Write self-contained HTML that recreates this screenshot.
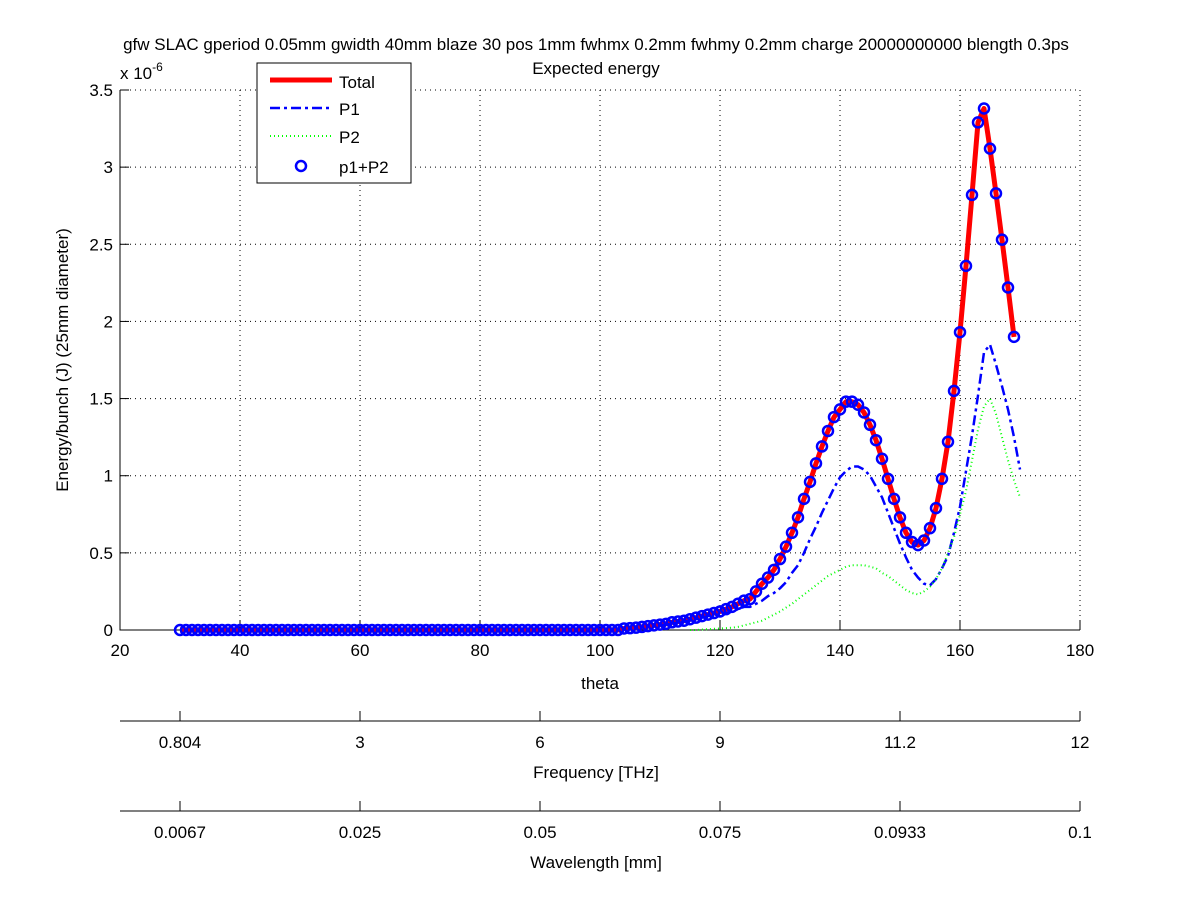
<!DOCTYPE html>
<html><head><meta charset="utf-8"><style>
body{margin:0;background:#fff;}
svg text{font-family:"Liberation Sans",sans-serif;fill:#000;}
</style></head><body>
<svg id="chart" width="1200" height="901" xmlns="http://www.w3.org/2000/svg">
<rect width="1200" height="901" fill="#fff"/>
<text x="596" y="50" font-size="17" text-anchor="middle">gfw SLAC gperiod 0.05mm gwidth 40mm blaze 30 pos 1mm fwhmx 0.2mm fwhmy 0.2mm charge 20000000000 blength 0.3ps</text>
<text x="596" y="74" font-size="17" text-anchor="middle">Expected energy</text>
<g id="grid"></g>
<g id="axes"></g>
<g id="series"></g>
<text x="120" y="79" font-size="17">x 10<tspan dy="-8" font-size="12">-6</tspan></text>
<text transform="translate(68,360) rotate(-90)" font-size="17" text-anchor="middle">Energy/bunch (J) (25mm diameter)</text>
<text x="600" y="689" font-size="17" text-anchor="middle">theta</text>
<text x="596" y="778" font-size="17" text-anchor="middle">Frequency [THz]</text>
<text x="596" y="868" font-size="17" text-anchor="middle">Wavelength [mm]</text>
<g>
<rect x="257" y="63" width="154" height="120" fill="#fff" stroke="#000" stroke-width="1"/>
<line x1="270" y1="80" x2="332" y2="80" stroke="#f00" stroke-width="5"/>
<text x="339" y="88" font-size="17">Total</text>
<line x1="270" y1="108" x2="332" y2="108" stroke="#00f" stroke-width="2.5" stroke-dasharray="10,4,3,4"/>
<text x="339" y="115" font-size="17">P1</text>
<line x1="270" y1="136" x2="332" y2="136" stroke="#0f0" stroke-width="2" stroke-dasharray="1,3"/>
<text x="339" y="143" font-size="17">P2</text>
<circle cx="301" cy="166" r="5" fill="none" stroke="#00f" stroke-width="2.5"/>
<text x="339" y="173" font-size="17">p1+P2</text>
</g>
</svg>
<script>
const thetaStart = 30;
const total = [0,0,0,0,0,0,0,0,0,0, 0,0,0,0,0,0,0,0,0,0, 0,0,0,0,0,0,0,0,0,0, 0,0,0,0,0,0,0,0,0,0, 0,0,0,0,0,0,0,0,0,0, 0,0,0,0,0,0,0,0,0,0, 0,0,0,0,0,0,0,0,0,0, 0,0,0,0,0.01,
0.012,0.015,0.02,0.025,0.03,0.035,0.04,0.05,0.055,0.06,0.07,0.08,0.09,0.10,0.11,0.12,0.135,0.15,0.17,0.19,
0.20,0.25,0.30,0.34,0.39,0.46,0.54,0.63,0.73,0.85,0.96,1.08,1.19,1.29,1.38,1.43,1.48,1.48,1.46,1.41,1.33,1.23,1.11,0.98,0.85,0.73,0.63,0.57,0.55,0.58,0.66,0.79,0.98,1.22,1.55,1.93,2.36,2.82,3.29,3.38,3.12,2.83,2.53,2.22,1.90];
const p1Start = 110;
const p1 = [0.03,0.035,0.04,0.05,0.055,0.06,0.07,0.08,0.09,0.10,0.10,0.11,0.12,0.135,0.15,0.15,0.17,0.19,0.22,0.24,0.27,0.31,0.37,0.42,0.50,0.59,0.67,0.76,0.84,0.92,0.99,1.03,1.06,1.06,1.04,1.00,0.93,0.86,0.76,0.66,0.56,0.47,0.39,0.34,0.30,0.29,0.33,0.40,0.48,0.63,0.80,1.03,1.26,1.52,1.80,1.85,1.72,1.58,1.43,1.25,1.04];
const p2Start = 115;
const p2 = [0,0,0.003,0.005,0.008,0.01,0.012,0.015,0.02,0.03,0.04,0.05,0.06,0.08,0.10,0.12,0.145,0.17,0.20,0.23,0.26,0.29,0.32,0.35,0.37,0.39,0.41,0.42,0.42,0.42,0.41,0.40,0.37,0.35,0.32,0.29,0.26,0.24,0.23,0.25,0.28,0.33,0.40,0.50,0.60,0.75,0.90,1.10,1.30,1.45,1.50,1.40,1.25,1.10,0.97,0.86];
const xTicks = [20,40,60,80,100,120,140,160,180];
const yTicks = [0,0.5,1,1.5,2,2.5,3,3.5];
const yTickLabels = ["0","0.5","1","1.5","2","2.5","3","3.5"];
const freqLabels = ["0.804","3","6","9","11.2","12"];
const wlLabels = ["0.0067","0.025","0.05","0.075","0.0933","0.1"];
const auxTickTheta = [30,60,90,120,150,180];

const NS="http://www.w3.org/2000/svg";
const X0=120,X1=1080,Y0=630,Y1=90;
const xs=v=>X0+(v-20)/(180-20)*(X1-X0);
const ys=v=>Y0-(v/3.5)*(Y0-Y1);
function mk(tag,parent){const e=document.createElementNS(NS,tag);parent.appendChild(e);return e;}
const grid=document.getElementById('grid'),axes=document.getElementById('axes'),series=document.getElementById('series');
xTicks.forEach((t,i)=>{
  if(i>0){const l=mk('line',grid);
    
    
    l.setAttribute('x1',xs(t));l.setAttribute('x2',xs(t));l.setAttribute('y1',Y1);l.setAttribute('y2',Y0);
    l.setAttribute('stroke','#000');l.setAttribute('stroke-width','1');l.setAttribute('stroke-dasharray','1,4');}
  const tk=mk('line',axes);
  
  
  tk.setAttribute('x1',xs(t));tk.setAttribute('x2',xs(t));tk.setAttribute('y1',Y0);tk.setAttribute('y2',Y0-9);tk.setAttribute('stroke','#000');
  const tx=mk('text',axes);
  
  
  tx.setAttribute('x',xs(t));tx.setAttribute('y',Y0+26);tx.setAttribute('font-size','17');tx.setAttribute('text-anchor','middle');tx.textContent=t;
});
yTicks.forEach((t,i)=>{
  if(i>0){const l=mk('line',grid);
    
    
    l.setAttribute('x1',X0);l.setAttribute('x2',X1);l.setAttribute('y1',ys(t));l.setAttribute('y2',ys(t));
    l.setAttribute('stroke','#000');l.setAttribute('stroke-width','1');l.setAttribute('stroke-dasharray','1,4');}
  const tk=mk('line',axes);
  
  
  tk.setAttribute('x1',X0);tk.setAttribute('x2',X0+9);tk.setAttribute('y1',ys(t));tk.setAttribute('y2',ys(t));tk.setAttribute('stroke','#000');
  const tx=mk('text',axes);
  
  
  tx.setAttribute('x',X0-7);tx.setAttribute('y',ys(t)+6);tx.setAttribute('font-size','17');tx.setAttribute('text-anchor','end');tx.textContent=yTickLabels[i];
});
const ax=mk('path',axes);


ax.setAttribute('d',`M${X0},${Y1}V${Y0}H${X1}`);ax.setAttribute('stroke','#000');ax.setAttribute('fill','none');
[[721,freqLabels,'frequency'],[811,wlLabels,'wavelength']].forEach(([yy,labs,nm])=>{
  const l=mk('line',axes);
  
  
  l.setAttribute('x1',X0);l.setAttribute('x2',X1);l.setAttribute('y1',yy);l.setAttribute('y2',yy);l.setAttribute('stroke','#000');
  auxTickTheta.forEach((t,i)=>{
    const tk=mk('line',axes);
    
    
    tk.setAttribute('x1',xs(t));tk.setAttribute('x2',xs(t));tk.setAttribute('y1',yy);tk.setAttribute('y2',yy-10);tk.setAttribute('stroke','#000');
    const tx=mk('text',axes);
    
    
    tx.setAttribute('x',xs(t));tx.setAttribute('y',yy+27);tx.setAttribute('font-size','17');tx.setAttribute('text-anchor','middle');tx.textContent=labs[i];
  });
});
function pts(arr,start){return arr.map((v,i)=>`${xs(start+i).toFixed(1)},${ys(v).toFixed(1)}`).join(' ');}
const tl=mk('polyline',series);


tl.setAttribute('points',pts(total,thetaStart));tl.setAttribute('fill','none');tl.setAttribute('stroke','#f00');tl.setAttribute('stroke-width','5');tl.setAttribute('stroke-linejoin','round');
const l1=mk('polyline',series);


l1.setAttribute('points',pts(p1,p1Start));l1.setAttribute('fill','none');l1.setAttribute('stroke','#00f');l1.setAttribute('stroke-width','2.5');l1.setAttribute('stroke-dasharray','10,4,3,4');
const l2=mk('polyline',series);


l2.setAttribute('points',pts(p2,p2Start));l2.setAttribute('fill','none');l2.setAttribute('stroke','#0f0');l2.setAttribute('stroke-width','2');l2.setAttribute('stroke-dasharray','1,3');
total.forEach((v,i)=>{
  const c=mk('circle',series);
  
  
  c.setAttribute('cx',xs(thetaStart+i));c.setAttribute('cy',ys(v));c.setAttribute('r','5');
  c.setAttribute('fill','none');c.setAttribute('stroke','#00f');c.setAttribute('stroke-width','2.5');
});
</script>
</body></html>
